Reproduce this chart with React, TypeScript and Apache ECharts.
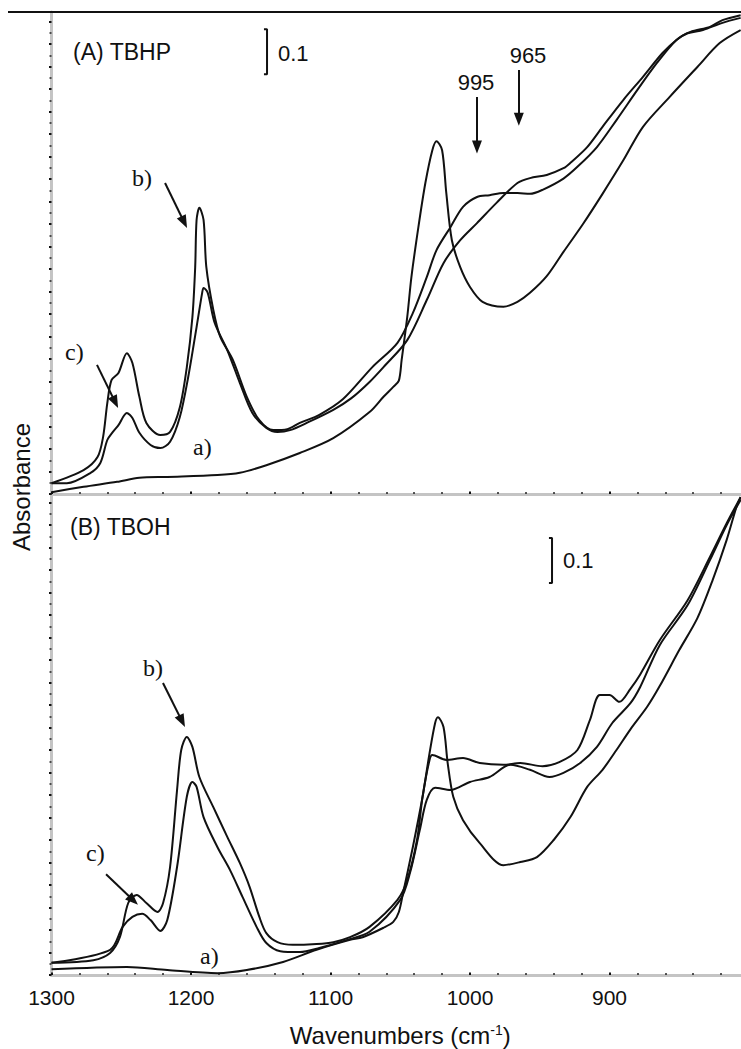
import React, { useEffect, useRef } from "react";
import * as echarts from "echarts";

// ---- Panel (A) TBHP : wavenumber (cm-1) / absorbance ----
const tbhpA_wn = [1300, 1277, 1253, 1237, 1217, 1181, 1165, 1146, 1122, 1098, 1072, 1062, 1055, 1051, 1049, 1045, 1042, 1037, 1032, 1027, 1024, 1020, 1017, 1013, 1007, 1000, 991, 976, 966, 957, 945, 933, 919, 905, 890, 876, 857, 837, 821, 806];
const tbhpA_abs = [0.004, 0.016, 0.027, 0.036, 0.038, 0.042, 0.047, 0.064, 0.091, 0.124, 0.182, 0.216, 0.238, 0.252, 0.298, 0.393, 0.482, 0.593, 0.691, 0.764, 0.784, 0.764, 0.669, 0.564, 0.504, 0.460, 0.427, 0.416, 0.427, 0.447, 0.484, 0.538, 0.600, 0.667, 0.742, 0.816, 0.882, 0.949, 1.002, 1.031];

const tbhpB_wn = [1300, 1277, 1267, 1263, 1260, 1257, 1252, 1246, 1242, 1237, 1232, 1222, 1215, 1208, 1203, 1199, 1197, 1196, 1194, 1191, 1189, 1184, 1179, 1170, 1160, 1151, 1141, 1131, 1122, 1108, 1091, 1070, 1052, 1041, 1031, 1024, 1014, 1005, 995, 986, 976, 966, 957, 948, 933, 923, 909, 895, 880, 866, 852, 842, 828, 819, 806];
const tbhpB_abs = [0.024, 0.053, 0.082, 0.127, 0.202, 0.253, 0.269, 0.313, 0.291, 0.216, 0.158, 0.131, 0.138, 0.193, 0.282, 0.393, 0.504, 0.609, 0.636, 0.609, 0.504, 0.409, 0.349, 0.298, 0.216, 0.164, 0.142, 0.144, 0.158, 0.176, 0.211, 0.282, 0.336, 0.402, 0.482, 0.542, 0.593, 0.638, 0.660, 0.664, 0.669, 0.669, 0.667, 0.676, 0.701, 0.727, 0.771, 0.831, 0.898, 0.958, 1.009, 1.027, 1.038, 1.053, 1.064];

const tbhpC_wn = [1300, 1289, 1272, 1265, 1260, 1256, 1252, 1246, 1242, 1237, 1229, 1222, 1215, 1208, 1202, 1196, 1192, 1191, 1188, 1183, 1174, 1165, 1156, 1146, 1138, 1129, 1117, 1098, 1085, 1072, 1062, 1045, 1031, 1019, 1007, 995, 981, 966, 957, 945, 933, 928, 916, 905, 890, 876, 862, 852, 844, 833, 819, 806];
const tbhpC_abs = [0.024, 0.024, 0.047, 0.069, 0.120, 0.138, 0.153, 0.180, 0.169, 0.136, 0.109, 0.102, 0.116, 0.171, 0.260, 0.371, 0.447, 0.458, 0.447, 0.380, 0.320, 0.247, 0.180, 0.147, 0.138, 0.142, 0.158, 0.187, 0.213, 0.249, 0.282, 0.342, 0.431, 0.513, 0.564, 0.602, 0.647, 0.691, 0.702, 0.709, 0.724, 0.736, 0.771, 0.816, 0.876, 0.927, 0.980, 1.009, 1.024, 1.031, 1.047, 1.058];

// ---- Panel (B) TBOH ----
const tbohA_wn = [1300, 1246, 1217, 1181, 1160, 1134, 1110, 1086, 1077, 1062, 1055, 1051, 1048, 1041, 1034, 1029, 1025, 1023, 1019, 1016, 1012, 1005, 993, 976, 964, 952, 940, 928, 916, 905, 895, 885, 873, 864, 850, 837, 826, 816, 809, 806];
const tbohA_abs = [0.013, 0.018, 0.011, 0.004, 0.011, 0.029, 0.056, 0.078, 0.084, 0.105, 0.118, 0.140, 0.182, 0.284, 0.396, 0.493, 0.560, 0.573, 0.551, 0.471, 0.396, 0.344, 0.293, 0.244, 0.251, 0.262, 0.300, 0.351, 0.418, 0.456, 0.500, 0.546, 0.596, 0.642, 0.722, 0.793, 0.878, 0.967, 1.040, 1.062];

const tbohB_wn = [1300, 1270, 1258, 1251, 1245, 1239, 1232, 1224, 1220, 1215, 1210, 1207, 1203, 1199, 1194, 1184, 1174, 1165, 1158, 1151, 1146, 1138, 1127, 1110, 1098, 1086, 1072, 1052, 1045, 1038, 1034, 1029, 1027, 1017, 1005, 993, 976, 964, 948, 936, 923, 914, 907, 900, 893, 885, 878, 864, 844, 828, 816, 806];
const tbohB_abs = [0.027, 0.033, 0.049, 0.084, 0.160, 0.178, 0.160, 0.140, 0.160, 0.240, 0.411, 0.500, 0.529, 0.507, 0.440, 0.373, 0.307, 0.249, 0.196, 0.129, 0.093, 0.073, 0.067, 0.069, 0.073, 0.084, 0.107, 0.167, 0.211, 0.300, 0.396, 0.478, 0.489, 0.478, 0.482, 0.471, 0.467, 0.471, 0.464, 0.473, 0.500, 0.567, 0.622, 0.622, 0.607, 0.636, 0.668, 0.744, 0.833, 0.929, 1.004, 1.062];

const tbohC_wn = [1300, 1258, 1249, 1242, 1235, 1229, 1222, 1217, 1210, 1203, 1199, 1196, 1191, 1181, 1172, 1163, 1153, 1146, 1136, 1122, 1108, 1088, 1072, 1050, 1043, 1036, 1031, 1025, 1014, 1000, 986, 971, 957, 943, 933, 921, 909, 898, 885, 878, 864, 844, 828, 816, 806];
const tbohC_abs = [0.027, 0.056, 0.107, 0.129, 0.136, 0.122, 0.098, 0.122, 0.240, 0.396, 0.429, 0.418, 0.351, 0.284, 0.233, 0.173, 0.107, 0.071, 0.053, 0.051, 0.060, 0.078, 0.096, 0.167, 0.227, 0.322, 0.389, 0.416, 0.411, 0.429, 0.440, 0.467, 0.456, 0.440, 0.449, 0.471, 0.507, 0.560, 0.604, 0.640, 0.733, 0.822, 0.922, 1.000, 1.056];

// x-axis ticks (cm-1)
const xTicks = [1300, 1200, 1100, 1000, 900];
const scaleBar = 0.1;

const SANS = "'Liberation Sans', Arial, sans-serif";
const SERIF = "'Liberation Serif', 'Times New Roman', serif";
const INK = "#111";
const AXIS_GREY = "#c4c4c4";

const pair = (wn: number[], ab: number[]) => wn.map((w, i) => [w, ab[i]]);

function spectrum(name: string, wn: number[], ab: number[], gi: number) {
  return {
    name,
    type: "line",
    xAxisIndex: gi,
    yAxisIndex: gi,
    data: pair(wn, ab),
    showSymbol: false,
    smooth: 0.3,
    lineStyle: { color: INK, width: 2 },
    z: 3,
  };
}

type Arrow = [number, number, number, number];

function bar(gi: number, w: number, top: number, arrows: Arrow[]) {
  const lo = top - scaleBar;
  return {
    type: "line",
    xAxisIndex: gi,
    yAxisIndex: gi,
    data: [
      [w + 2.2, top],
      [w, top],
      [w, lo],
      [w + 2.2, lo],
    ],
    showSymbol: false,
    lineStyle: { color: INK, width: 2 },
    silent: true,
    z: 4,
    markLine: {
      silent: true,
      symbol: ["none", "triangle"],
      symbolSize: [10, 13],
      label: { show: false },
      lineStyle: { color: INK, width: 2, type: "solid" },
      data: arrows.map(([w1, v1, w2, v2]) => [{ coord: [w1, v1] }, { coord: [w2, v2] }]),
    },
  };
}

function label(text: string, x: number, y: number, font: string, size: number, align = "left") {
  return {
    type: "text",
    x,
    y,
    z: 10,
    style: { text, fontFamily: font, fontSize: size, fill: INK, align, verticalAlign: "middle" },
  };
}

const axisBase = (gi: number) => ({
  type: "value",
  gridIndex: gi,
  min: 800,
  max: 1300,
  inverse: true,
  interval: 100,
  axisLine: { show: true, onZero: false, lineStyle: { color: AXIS_GREY, width: 3 } },
  axisTick: { show: true, inside: true, length: 2.5, lineStyle: { color: "#111", width: 2 } },
  minorTick: { show: true, splitNumber: 5, length: 2, lineStyle: { color: "#222", width: 1.5 } },
  splitLine: { show: false },
  minorSplitLine: { show: false },
});

const option = {
  animation: false,
  backgroundColor: "#fff",
  grid: [
    { left: 51.5, top: 12, width: 697.5, height: 482, outerBoundsMode: "none", containLabel: false },
    { left: 51.5, top: 494, width: 697.5, height: 481, outerBoundsMode: "none", containLabel: false },
  ],
  xAxis: [
    { ...axisBase(0), axisLabel: { show: false } },
    {
      ...axisBase(1),
      axisLabel: {
        show: true,
        margin: 12,
        fontFamily: SANS,
        fontSize: 21,
        color: INK,
        formatter: (v: number) => (xTicks.includes(v) ? String(v) : ""),
      },
      name: "Wavenumbers (cm{sup|-1})",
      nameLocation: "middle",
      nameGap: 48,
      nameTextStyle: {
        fontFamily: SANS,
        fontSize: 24,
        color: INK,
        rich: { sup: { fontFamily: SANS, fontSize: 14, verticalAlign: "top", color: INK } },
      },
    },
  ],
  yAxis: [0, 1].map((gi) => ({
    type: "value",
    gridIndex: gi,
    min: 0,
    max: gi === 0 ? 482 / 450 : 481 / 450,
    interval: 0.05,
    axisLine: { show: true, onZero: false, lineStyle: { color: AXIS_GREY, width: 3 } },
    axisTick: { show: true, inside: false, length: 2.5, lineStyle: { color: "#111", width: 2 } },
    minorTick: { show: true, splitNumber: 2, length: 2, lineStyle: { color: "#222", width: 1.5 } },
    axisLabel: { show: false },
    splitLine: { show: false },
  })),
  series: [
    spectrum("TBHP a", tbhpA_wn, tbhpA_abs, 0),
    spectrum("TBHP b", tbhpB_wn, tbhpB_abs, 0),
    spectrum("TBHP c", tbhpC_wn, tbhpC_abs, 0),
    spectrum("TBOH a", tbohA_wn, tbohA_abs, 1),
    spectrum("TBOH b", tbohB_wn, tbohB_abs, 1),
    spectrum("TBOH c", tbohC_wn, tbohC_abs, 1),
    bar(0, 1145.5, 1.033, [
      [995, 0.882, 995, 0.771],
      [965, 0.942, 965, 0.833],
      [1218.6, 0.691, 1204.9, 0.604],
      [1267.4, 0.287, 1254.3, 0.204],
    ]),
    bar(1, 941.2, 0.971, [
      [1220.1, 0.649, 1206.4, 0.564],
      [1260.9, 0.224, 1241.4, 0.166],
    ]),
  ],
  graphic: [
    {
      type: "line",
      z: 10,
      shape: { x1: 8, y1: 12, x2: 741, y2: 12 },
      style: { stroke: INK, lineWidth: 2 },
    },
    label("(A) TBHP", 73, 52, SANS, 23),
    label("0.1", 278, 53, SANS, 22),
    label("995", 476, 82, SANS, 22, "center"),
    label("965", 528, 55, SANS, 22, "center"),
    label("b)", 132, 178, SERIF, 24),
    label("c)", 65, 352, SERIF, 24),
    label("a)", 193, 447, SERIF, 24),
    label("(B) TBOH", 70, 527, SANS, 23),
    label("0.1", 563, 560, SANS, 22),
    label("b)", 143, 668, SERIF, 24),
    label("c)", 86, 853, SERIF, 24),
    label("a)", 200, 956, SERIF, 24),
    {
      type: "text",
      x: 21,
      y: 487,
      rotation: Math.PI / 2,
      z: 10,
      style: { text: "Absorbance", fontFamily: SANS, fontSize: 24, fill: INK, align: "center", verticalAlign: "middle" },
    },
  ],
};

export default function App() {
  const ref = useRef<HTMLDivElement>(null);
  useEffect(() => {
    document.body.style.margin = "0";
    const chart = echarts.init(ref.current!, null, { renderer: "svg" });
    chart.setOption(option as any);
    return () => chart.dispose();
  }, []);
  return (
    <div
      ref={ref}
      style={{ position: "absolute", left: 0, top: 0, width: 741, height: 1049, background: "#fff" }}
    />
  );
}
